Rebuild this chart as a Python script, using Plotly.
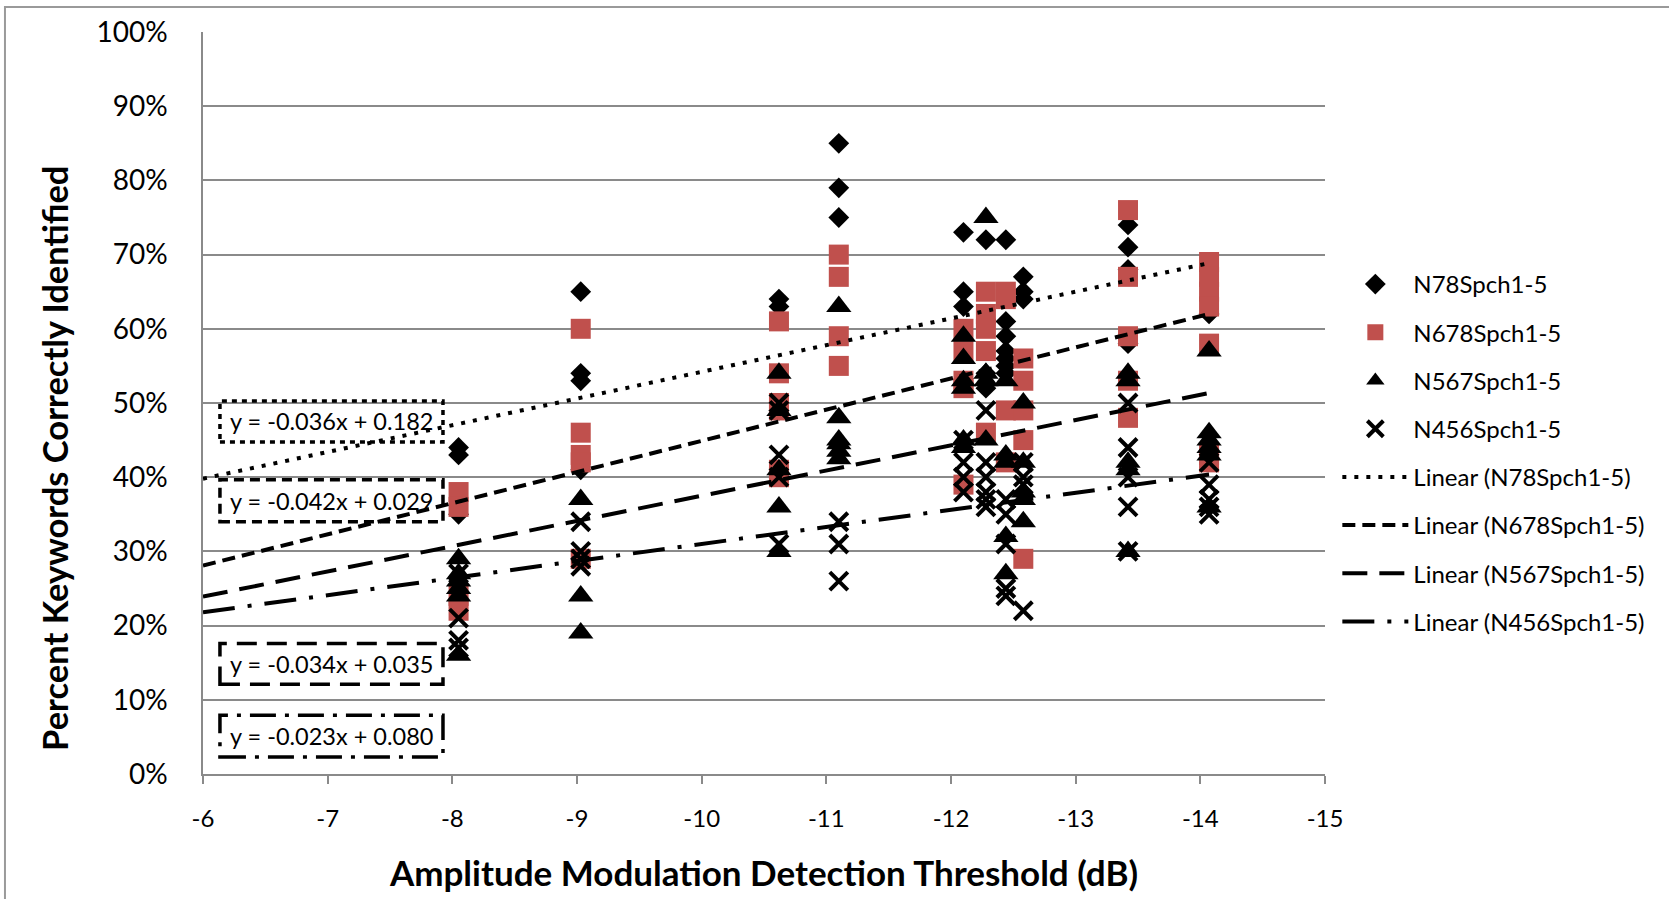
import plotly.graph_objects as go

# ---------------- data ----------------
col_x = [-8.05, -9.03, -10.62, -11.1, -12.1, -12.28, -12.44, -12.58, -13.42, -14.07]

n78 = [
    [0.44, 0.43, 0.35],
    [0.65, 0.54, 0.53, 0.41],
    [0.64, 0.63, 0.49],
    [0.85, 0.79, 0.75],
    [0.73, 0.65, 0.63],
    [0.72, 0.54, 0.52],
    [0.72, 0.61, 0.59, 0.57, 0.56, 0.55, 0.54],
    [0.67, 0.65, 0.64],
    [0.74, 0.71, 0.68, 0.58],
    [0.62],
]
n678 = [
    [0.38, 0.36, 0.24, 0.22],
    [0.60, 0.46, 0.43, 0.42, 0.29],
    [0.61, 0.54, 0.50, 0.49, 0.41, 0.40],
    [0.70, 0.67, 0.59, 0.55],
    [0.60, 0.57, 0.53, 0.52, 0.39],
    [0.65, 0.62, 0.60, 0.57, 0.46],
    [0.65, 0.64, 0.49, 0.42],
    [0.56, 0.53, 0.49, 0.45, 0.29],
    [0.76, 0.67, 0.59, 0.53, 0.48],
    [0.69, 0.67, 0.65, 0.63, 0.58, 0.43, 0.42],
]
n567 = [
    [0.29, 0.27, 0.26, 0.25, 0.24, 0.16],
    [0.37, 0.24, 0.19],
    [0.54, 0.49, 0.41, 0.36, 0.30],
    [0.63, 0.48, 0.45, 0.445, 0.435, 0.425],
    [0.59, 0.56, 0.53, 0.52, 0.45, 0.44],
    [0.75, 0.54, 0.53, 0.45],
    [0.53, 0.43, 0.42, 0.32, 0.27],
    [0.50, 0.42, 0.38, 0.37, 0.34],
    [0.54, 0.53, 0.42, 0.41, 0.30],
    [0.57, 0.46, 0.45, 0.44, 0.43, 0.36],
]
n456 = [
    [0.27, 0.21, 0.18, 0.17],
    [0.34, 0.30, 0.29, 0.28],
    [0.50, 0.49, 0.43, 0.40, 0.31],
    [0.34, 0.31, 0.26],
    [0.45, 0.42, 0.40, 0.38],
    [0.49, 0.42, 0.40, 0.38, 0.37, 0.36],
    [0.37, 0.35, 0.31, 0.25, 0.24],
    [0.42, 0.40, 0.39, 0.22],
    [0.50, 0.44, 0.40, 0.36, 0.30],
    [0.42, 0.39, 0.37, 0.36, 0.35],
]

series_names = ["N78Spch1-5", "N678Spch1-5", "N567Spch1-5", "N456Spch1-5"]
trend_slopes = [-0.036, -0.042, -0.034, -0.023]
trend_intercepts = [0.182, 0.029, 0.035, 0.080]
trend_labels = ["y = -0.036x + 0.182", "y = -0.042x + 0.029",
                "y = -0.034x + 0.035", "y = -0.023x + 0.080"]
trend_x_range = [-6, -14.07]

x_ticks = [-6, -7, -8, -9, -10, -11, -12, -13, -14, -15]

# ---------------- styling ----------------
FONT = "Lato"
RED = "#C0504D"
GRID = "#8a8a8a"

marker_styles = [
    dict(symbol="diamond", size=16, color="black"),
    dict(symbol="square", size=20, color=RED),
    dict(symbol="triangle-up", size=22, color="black"),
    dict(symbol="x-thin", size=18, color="black", line=dict(width=4, color="black")),
]
line_dashes = ["4px,8px", "13px,7px", "25px,12px", "32px,13px,4px,13px"]
box_dashes = ["5px,5px", "10px,6px", "20px,10px", "26px,9px,4px,9px"]


def flat(groups):
    xs, ys = [], []
    for cx, vals in zip(col_x, groups):
        for v in vals:
            xs.append(cx)
            ys.append(v)
    return xs, ys


fig = go.Figure()

for i, (name, data) in enumerate(zip(series_names, [n78, n678, n567, n456])):
    xs, ys = flat(data)
    fig.add_trace(go.Scatter(
        x=xs, y=ys, mode="markers", name=name, legendgroup=f"g{i}",
        marker=marker_styles[i], hoverinfo="x+y",
    ))

for i, name in enumerate(series_names):
    lx = trend_x_range
    ly = [trend_slopes[i] * v + trend_intercepts[i] for v in lx]
    fig.add_trace(go.Scatter(
        x=lx, y=ly, mode="lines", name=f"Linear ({name})", legendgroup=f"t{i}",
        line=dict(color="black", width=4, dash=line_dashes[i]),
    ))

# equation boxes (placed in plot coordinates)
box_x = [-6.136, -7.925]
box_y = [[0.4476, 0.5027], [0.340, 0.3965], [0.121, 0.176], [0.0228, 0.0793]]
shapes = []
annotations = []
for i in range(4):
    shapes.append(dict(type="rect", xref="x", yref="y",
                       x0=box_x[0], x1=box_x[1], y0=box_y[i][0], y1=box_y[i][1],
                       line=dict(color="black", width=3.5, dash=box_dashes[i]),
                       fillcolor="rgba(255,255,255,0)", layer="above"))
    annotations.append(dict(xref="x", yref="y", x=sum(box_x) / 2,
                            y=sum(box_y[i]) / 2, text=trend_labels[i],
                            showarrow=False, font=dict(family=FONT, size=23.5, color="black")))

# y-axis title (sits slightly below the plot centre, as in the original)
annotations.append(dict(xref="paper", yref="paper", x=-0.1319, y=0.4247,
                        text="Percent Keywords Correctly Identified", textangle=-90,
                        showarrow=False, xanchor="center", yanchor="middle",
                        font=dict(family=FONT, size=34.5, color="black", weight="bold")))

# outer chart-area border (left/top visible)
shapes.append(dict(type="rect", xref="paper", yref="paper",
                   x0=-0.1765, x1=1.6, y0=-0.25, y1=1.0336,
                   line=dict(color="#9a9a9a", width=2), layer="below"))

fig.update_layout(
    width=1669, height=899,
    margin=dict(l=203, r=344, t=32, b=123),
    paper_bgcolor="white", plot_bgcolor="white",
    font=dict(family=FONT, color="black"),
    shapes=shapes, annotations=annotations,
    showlegend=True,
    legend=dict(x=1.011, y=0.69, xanchor="left", yanchor="top",
                font=dict(family=FONT, size=24, color="black"),
                tracegroupgap=14, itemwidth=66, bgcolor="rgba(0,0,0,0)"),
)

fig.update_xaxes(
    range=[-6, -15], tickvals=x_ticks, ticktext=[str(v) for v in x_ticks],
    showgrid=False, zeroline=False,
    showline=True, linecolor=GRID, linewidth=1.5,
    ticks="outside", ticklen=8, tickcolor=GRID, tickwidth=1.5,
    tickfont=dict(family=FONT, size=24, color="black"),
    ticklabelstandoff=14,
    title=dict(text="Amplitude Modulation Detection Threshold (dB)",
               font=dict(family=FONT, size=35, color="black", weight="bold"),
               standoff=31),
)
fig.update_yaxes(
    range=[0, 1], dtick=0.1, tickformat=".0%",
    showgrid=True, gridcolor=GRID, gridwidth=1.5, zeroline=False,
    showline=True, linecolor=GRID, linewidth=1.5,
    ticks="", tickfont=dict(family=FONT, size=28, color="black"),
    ticklabelstandoff=28,
)

fig.write_html("out.html")
